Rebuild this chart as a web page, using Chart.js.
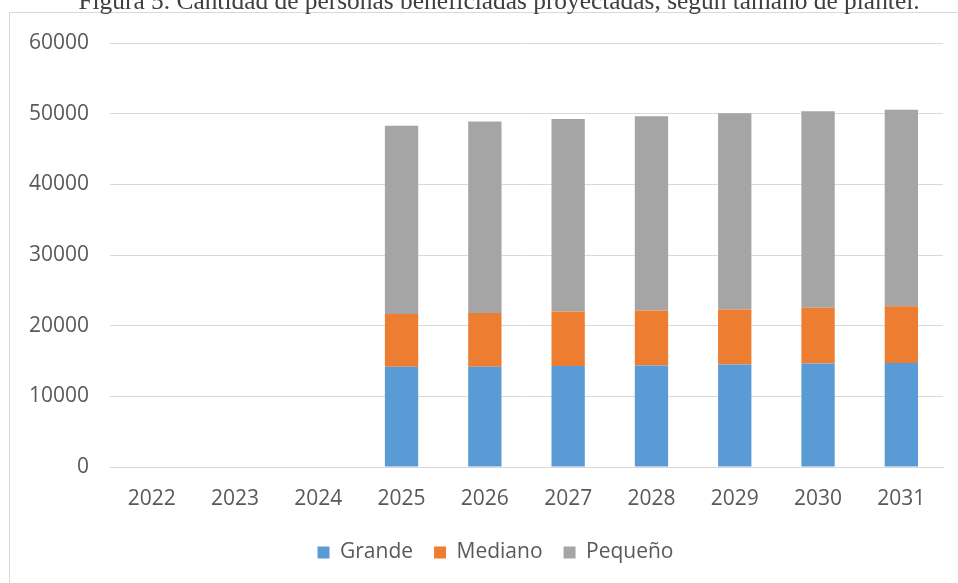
<!DOCTYPE html>
<html>
<head>
<meta charset="utf-8">
<script src="https://cdn.jsdelivr.net/npm/chart.js@4"></script>
<style>
  html, body { margin: 0; padding: 0; background: #fff; overflow: hidden; }
  body { width: 958px; height: 583px; position: relative; }
  #frame { position: absolute; left: 9px; top: 12px; width: 1000px; height: 620px; border: 1px solid #d9d9d9; box-sizing: border-box; }
  #title { position: absolute; left: 0; top: -14px; width: 998px; text-align: center; font-family: "Liberation Serif", "Times New Roman", serif; font-size: 25.4px; line-height: 29px; color: #404040; white-space: nowrap; }
  #chart { position: absolute; left: 0; top: 0; }
</style>
</head>
<body>
<div id="frame"></div>
<canvas id="chart" width="958" height="583"></canvas>
<div id="title">Figura 5. Cantidad de personas beneficiadas proyectadas, según tamaño de plantel.</div>
<script>
const years    = ['2022', '2023', '2024', '2025', '2026', '2027', '2028', '2029', '2030', '2031'];
const grande   = [null, null, null, 14200, 14200, 14300, 14350, 14500, 14650, 14700];
const mediano  = [null, null, null, 7450, 7600, 7700, 7800, 7800, 7900, 8050];
const pequeno  = [null, null, null, 26650, 27100, 27250, 27500, 27750, 27800, 27800];
const yTicks   = [0, 10000, 20000, 30000, 40000, 50000, 60000];

const font = { family: '"Open Sans", sans-serif', size: 21 };
const tickColor = '#595959';

// the legend sits a bit right of the canvas centre in the original
const shiftLegend = {
  id: 'shiftLegend',
  afterLayout(chart) {
    chart.legend.left += 15;
    chart.legend.right += 15;
  }
};

new Chart(document.getElementById('chart'), {
  type: 'bar',
  data: {
    labels: years,
    datasets: [
      { label: 'Grande',  data: grande,  backgroundColor: '#5B9BD5' },
      { label: 'Mediano', data: mediano, backgroundColor: '#ED7D31' },
      { label: 'Pequeño', data: pequeno, backgroundColor: '#A5A5A5' },
    ]
  },
  plugins: [shiftLegend],
  options: {
    responsive: false,
    animation: false,
    events: [],
    datasets: { bar: { barPercentage: 0.4, categoryPercentage: 1 } },
    layout: { padding: { top: 43, left: 18, right: 15, bottom: 10 } },
    plugins: {
      tooltip: { enabled: false },
      legend: {
        position: 'bottom',
        maxHeight: 60,
        labels: { font, color: tickColor, boxWidth: 12, boxHeight: 12, padding: 21 }
      }
    },
    scales: {
      x: {
        stacked: true,
        grid: { display: false, drawTicks: false },
        border: { display: true, color: '#d9d9d9' },
        ticks: { font, color: tickColor, padding: 19 },
        afterFit: (s) => { s.height = 54; }
      },
      y: {
        stacked: true,
        min: 0, max: 60000,
        afterBuildTicks: (s) => { s.ticks = yTicks.map(v => ({ value: v })); },
        grid: { color: '#d9d9d9', drawTicks: false },
        border: { display: false },
        ticks: { font, color: tickColor, padding: 21, callback: (v) => String(v) },
        afterFit: (s) => { s.width = 92; }
      }
    }
  }
});
</script>
</body>
</html>
